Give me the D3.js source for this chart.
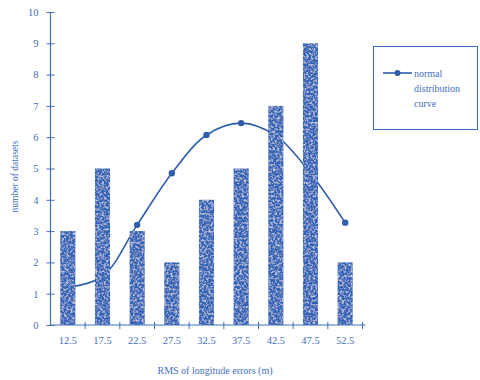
<!DOCTYPE html>
<html>
<head>
<meta charset="utf-8">
<script src="https://cdn.jsdelivr.net/npm/d3@7"></script>
<style>
  html, body { margin: 0; padding: 0; background: #fff; }
  svg { display: block; }
  text { font-family: "Liberation Serif", "DejaVu Serif", serif; }
</style>
</head>
<body>
<svg id="chart" width="480" height="380"></svg>
<script>
// RMS bins (m), dataset counts and the fitted normal distribution curve
const categories = ["12.5", "17.5", "22.5", "27.5", "32.5", "37.5", "42.5", "47.5", "52.5"];
const counts = [3, 5, 3, 2, 4, 5, 7, 9, 2];
const normalCurve = [1.2, 1.55, 3.2, 4.85, 6.07, 6.45, 6.05, 4.85, 3.27];
const yTicks = [0, 1, 2, 3, 4, 5, 6, 7, 8, 9, 10];

(function () {
  const svg = d3.select("#chart");
  const ink = "#3f70bd";
  const barBlue = "#3063b6";

  const mLeft = 50.5, mRight = 362.5, mTop = 12, mBottom = 325;

  const x = d3.scaleBand()
    .domain(categories)
    .range([mLeft, mRight])
    .paddingInner(0.565)
    .paddingOuter(0.2825);

  const y = d3.scaleLinear().domain([0, 10]).range([mBottom, mTop]);

  // mottled texture for the bars
  const defs = svg.append("defs");
  const f = defs.append("filter").attr("id", "speckle")
    .attr("x", 0).attr("y", 0).attr("width", 1).attr("height", 1);
  f.append("feTurbulence").attr("type", "fractalNoise")
    .attr("baseFrequency", 0.45).attr("numOctaves", 2).attr("seed", 7).attr("result", "noise");
  f.append("feColorMatrix").attr("in", "noise").attr("type", "matrix")
    .attr("values", "0 0 0 0 1  0 0 0 0 1  0 0 0 0 1  1.6 0 0 0 -0.72")
    .attr("result", "spots");
  f.append("feComposite").attr("in", "spots").attr("in2", "SourceGraphic")
    .attr("operator", "in").attr("result", "clipped");
  const merge = f.append("feMerge");
  merge.append("feMergeNode").attr("in", "SourceGraphic");
  merge.append("feMergeNode").attr("in", "clipped");

  // normal distribution curve (drawn beneath the bars)
  const cx = d => x(d) + x.bandwidth() / 2;
  const line = d3.line()
    .x((d, i) => cx(categories[i]))
    .y(d => y(d))
    .curve(d3.curveCatmullRom.alpha(0.5));

  svg.append("path")
    .datum(normalCurve)
    .attr("d", line)
    .attr("fill", "none")
    .attr("stroke", "#2f5ea9")
    .attr("stroke-width", 1.6);

  svg.append("g").selectAll("circle")
    .data(normalCurve)
    .join("circle")
    .attr("cx", (d, i) => cx(categories[i]))
    .attr("cy", d => y(d))
    .attr("r", 3.2)
    .attr("fill", "#2f5ea9");

  // bars
  svg.append("g").selectAll("rect")
    .data(counts)
    .join("rect")
    .attr("x", (d, i) => x(categories[i]))
    .attr("y", d => y(d))
    .attr("width", x.bandwidth())
    .attr("height", d => y(0) - y(d))
    .attr("fill", barBlue)
    .attr("filter", "url(#speckle)");

  // y axis with ticks crossing the line
  const yAxis = svg.append("g")
    .attr("transform", `translate(${mLeft},0)`)
    .call(d3.axisLeft(y).tickValues(yTicks).tickSize(4).tickPadding(8));
  yAxis.select(".domain").attr("d", `M0,${mBottom}V${mTop}`).attr("stroke", ink).attr("stroke-width", 1.2);
  yAxis.selectAll(".tick line").attr("x1", 4).attr("stroke", ink);
  yAxis.selectAll(".tick text")
    .attr("fill", ink).attr("font-size", 10.5)
    .style("font-family", '"Liberation Serif", serif');

  // x axis: category labels, ticks on the bin boundaries
  const xAxis = svg.append("g")
    .attr("transform", `translate(0,${mBottom})`)
    .call(d3.axisBottom(x).tickSize(0).tickPadding(12));
  xAxis.select(".domain").attr("d", `M${mLeft},0H${mRight + 3}`).attr("stroke", ink).attr("stroke-width", 1.2);
  xAxis.selectAll(".tick text")
    .attr("fill", ink).attr("font-size", 10.5)
    .style("font-family", '"Liberation Serif", serif');

  const step = x.step();
  const boundaries = categories.slice(1).map(c => cx(c) - step / 2)
    .concat([cx(categories[categories.length - 1]) + step / 2]);
  xAxis.append("g").selectAll("line")
    .data(boundaries)
    .join("line")
    .attr("x1", d => d).attr("x2", d => d)
    .attr("y1", -3).attr("y2", 4)
    .attr("stroke", ink);

  // axis titles
  svg.append("text")
    .attr("transform", `translate(18,${(mTop + mBottom) / 2 + 8}) rotate(-90)`)
    .attr("text-anchor", "middle")
    .attr("fill", ink)
    .attr("font-size", 9.5)
    .text("number of datasets");

  svg.append("text")
    .attr("x", 215).attr("y", 374)
    .attr("text-anchor", "middle")
    .attr("fill", ink)
    .attr("font-size", 10)
    .text("RMS of longitude errors (m)");

  // legend
  const lg = svg.append("g");
  lg.append("rect")
    .attr("x", 373.5).attr("y", 46.5)
    .attr("width", 104).attr("height", 83)
    .attr("fill", "none").attr("stroke", ink).attr("stroke-width", 1);
  lg.append("line")
    .attr("x1", 383).attr("x2", 412).attr("y1", 73).attr("y2", 73)
    .attr("stroke", "#2f5ea9").attr("stroke-width", 1.6);
  lg.append("circle").attr("cx", 397.5).attr("cy", 73).attr("r", 3).attr("fill", "#2f5ea9");
  ["normal", "distribution", "curve"].forEach((t, i) => {
    lg.append("text")
      .attr("x", 414).attr("y", 77 + i * 15)
      .attr("fill", ink).attr("font-size", 10)
      .text(t);
  });
})();
</script>
</body>
</html>
